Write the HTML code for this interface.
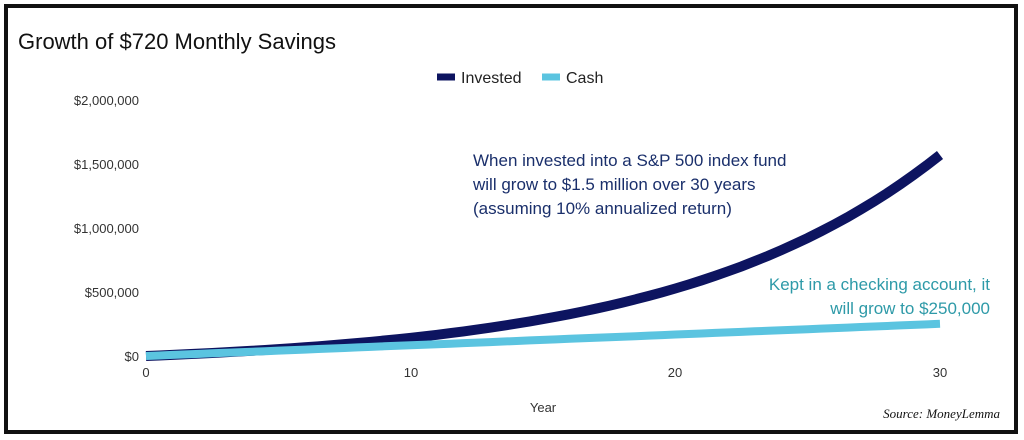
<!DOCTYPE html>
<html><head><meta charset="utf-8"><style>
body{margin:0;background:#fff;}
svg{display:block;font-family:"Liberation Sans",Arial,sans-serif;}
</style></head><body>
<svg id="s" width="1024" height="440" viewBox="0 0 1024 440">
<rect x="0" y="0" width="1024" height="440" fill="#fff"/>
<rect x="6" y="6" width="1010" height="426" fill="none" stroke="#111" stroke-width="4"/>
<text x="18" y="49" font-size="22" fill="#111">Growth of $720 Monthly Savings</text>
<line x1="437" y1="77" x2="455" y2="77" stroke="#0d1460" stroke-width="7"/>
<text x="461" y="83" font-size="16" fill="#222">Invested</text>
<line x1="542" y1="77" x2="560" y2="77" stroke="#5bc4e0" stroke-width="7"/>
<text x="566" y="83" font-size="16" fill="#222">Cash</text>
<g font-size="13" fill="#333" text-anchor="end">
<text x="139" y="105">$2,000,000</text>
<text x="139" y="169">$1,500,000</text>
<text x="139" y="233">$1,000,000</text>
<text x="139" y="297">$500,000</text>
<text x="139" y="361">$0</text>
</g>
<g font-size="13" fill="#333" text-anchor="middle">
<text x="146" y="377">0</text>
<text x="411" y="377">10</text>
<text x="675" y="377">20</text>
<text x="940" y="377">30</text>
<text x="543" y="412">Year</text>
</g>
<path id="inv" fill="none" stroke="#0d1460" stroke-width="10" stroke-linecap="butt"/>
<path id="cash" fill="none" stroke="#5bc4e0" stroke-width="8" stroke-linecap="butt"/>
<g font-size="17" fill="#1a2f6b">
<text x="473" y="166">When invested into a S&amp;P 500 index fund</text>
<text x="473" y="190">will grow to $1.5 million over 30 years</text>
<text x="473" y="214">(assuming 10% annualized return)</text>
</g>
<g font-size="17" fill="#2e9aa8" text-anchor="end">
<text x="990" y="290">Kept in a checking account, it</text>
<text x="990" y="314">will grow to $250,000</text>
</g>
<text x="1000" y="418" font-size="13" font-style="italic" font-family="Liberation Serif,serif" fill="#111" text-anchor="end">Source: MoneyLemma</text>
</svg>
<script>
function X(t){return 146+t*(794/30);}
function Y(v){return 356-v/500000*64;}
var a="",b="";
for(var i=0;i<=60;i++){var t=i/2,n=t*12,r=0.1/12;
var inv=0.965*720*(Math.pow(1+r,n)-1)/r; var c=720*n*0.97;
a+=(i?"L":"M")+X(t).toFixed(1)+" "+Y(inv).toFixed(1);
b+=(i?"L":"M")+X(t).toFixed(1)+" "+Y(c).toFixed(1);}
document.getElementById("inv").setAttribute("d",a);
document.getElementById("cash").setAttribute("d",b);
</script>
</body></html>
